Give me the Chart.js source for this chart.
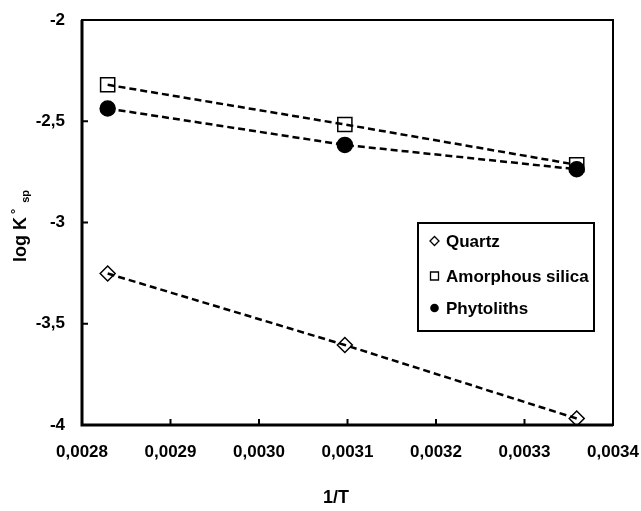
<!DOCTYPE html>
<html>
<head>
<meta charset="utf-8">
<script src="https://cdn.jsdelivr.net/npm/chart.js@4.4.0/dist/chart.umd.min.js"></script>
<style>
  body { margin: 0; background: #fff; }
  #wrap { width: 641px; height: 511px; }
</style>
</head>
<body>
<div id="wrap"><canvas id="chart" width="641" height="511"></canvas></div>
<script>
// 1/T values (K^-1) and log K°sp for each material
const invT = [0.002829, 0.003097, 0.003359];
const quartz = [-3.252, -3.605, -3.968];
const amorphousSilica = [-2.32, -2.516, -2.715];
const phytoliths = [-2.437, -2.617, -2.737];

const xTicks = { min: 0.0028, max: 0.0034, step: 0.0001 };
const yTicks = { min: -4, max: -2, step: 0.5 };

const FONT = "'Liberation Sans', Arial, sans-serif";

function toPoints(values) {
  return invT.map((x, i) => ({ x: x, y: values[i] }));
}

function makeSet(label, values, style, radius, fill) {
  return {
    label: label,
    data: toPoints(values),
    showLine: true,
    borderColor: '#000',
    borderWidth: 2.5,
    borderDash: [7, 4],
    pointStyle: style,
    pointRadius: radius,
    pointHoverRadius: radius,
    pointBorderColor: '#000',
    pointBorderWidth: 1.5,
    pointBackgroundColor: fill,
    fill: false
  };
}

// borders, inward tick marks, axis titles and the legend box
const decorations = {
  id: 'decorations',
  afterDraw(chart) {
    const ctx = chart.ctx;
    const a = chart.chartArea;
    const xs = chart.scales.x, ys = chart.scales.y;
    ctx.save();
    ctx.strokeStyle = '#000';
    ctx.setLineDash([]);

    ctx.lineWidth = 2;
    ctx.strokeRect(a.left, a.top, a.right - a.left, a.bottom - a.top);
    ctx.lineWidth = 3;
    ctx.beginPath();
    ctx.moveTo(a.left, a.top);
    ctx.lineTo(a.left, a.bottom);
    ctx.lineTo(a.right, a.bottom);
    ctx.stroke();

    ctx.lineWidth = 2;
    ctx.beginPath();
    xs.ticks.forEach(t => {
      const px = xs.getPixelForValue(t.value);
      ctx.moveTo(px, a.bottom);
      ctx.lineTo(px, a.bottom - 6);
    });
    ys.ticks.forEach(t => {
      const py = ys.getPixelForValue(t.value);
      ctx.moveTo(a.left, py);
      ctx.lineTo(a.left + 6, py);
    });
    ctx.stroke();

    // x title
    ctx.fillStyle = '#000';
    ctx.font = 'bold 18px ' + FONT;
    ctx.textAlign = 'center';
    ctx.textBaseline = 'alphabetic';
    ctx.fillText('1/T', 336, 503);

    // y title: log K°sp
    ctx.save();
    ctx.translate(26, 226);
    ctx.rotate(-Math.PI / 2);
    ctx.textAlign = 'left';
    const f1 = 'bold 18px ' + FONT, f2 = 'bold 13px ' + FONT, f3 = 'bold 11px ' + FONT;
    ctx.font = f1; const w1 = ctx.measureText('log K').width;
    ctx.font = f2; const w2 = ctx.measureText('°').width;
    ctx.font = f3; const w3 = ctx.measureText('sp').width;
    const total = w1 + 3 + w2 + 6 + w3;
    let cx = -total / 2;
    ctx.font = f1; ctx.fillText('log K', cx, 0); cx += w1 + 3;
    ctx.font = f2; ctx.fillText('°', cx, -6); cx += w2 + 6;
    ctx.font = f3; ctx.fillText('sp', cx, 3);
    ctx.restore();

    // legend
    ctx.lineWidth = 2;
    ctx.strokeRect(418, 223, 176, 108);
    const rows = [241, 276, 308];
    chart.data.datasets.forEach((ds, i) => {
      const y = rows[i], x = 434.5;
      ctx.lineWidth = 1.3;
      ctx.beginPath();
      if (ds.pointStyle === 'rectRot') {
        ctx.moveTo(x - 4.5, y); ctx.lineTo(x, y - 4.5);
        ctx.lineTo(x + 4.5, y); ctx.lineTo(x, y + 4.5);
        ctx.closePath(); ctx.stroke();
      } else if (ds.pointStyle === 'rect') {
        ctx.rect(x - 4, y - 4, 8, 8); ctx.stroke();
      } else {
        ctx.arc(x, y, 4.3, 0, Math.PI * 2); ctx.fill();
      }
      ctx.font = 'bold 17px ' + FONT;
      ctx.textAlign = 'left';
      ctx.fillText(ds.label, 446, y + 6);
    });
    ctx.restore();
  }
};

new Chart(document.getElementById('chart'), {
  type: 'scatter',
  data: {
    datasets: [
      makeSet('Quartz', quartz, 'rectRot', 7.5, 'rgba(0,0,0,0)'),
      makeSet('Amorphous silica', amorphousSilica, 'rect', 10, 'rgba(0,0,0,0)'),
      makeSet('Phytoliths', phytoliths, 'circle', 7.5, '#000')
    ]
  },
  options: {
    responsive: false,
    animation: false,
    layout: { padding: { top: 20, right: 28, left: 0, bottom: 0 } },
    plugins: { legend: { display: false }, tooltip: { enabled: false } },
    scales: {
      x: {
        type: 'linear',
        min: xTicks.min,
        max: xTicks.max,
        afterFit: s => { s.height = 86; s.paddingLeft = 0; s.paddingRight = 0; },
        border: { display: false },
        grid: { display: false, drawTicks: false },
        ticks: {
          stepSize: xTicks.step,
          padding: 17,
          color: '#000',
          font: { family: FONT, size: 17, weight: 'bold' },
          callback: v => v.toFixed(4).replace('.', ',')
        }
      },
      y: {
        type: 'linear',
        min: yTicks.min,
        max: yTicks.max,
        afterFit: s => { s.width = 82; s.paddingTop = 0; s.paddingBottom = 0; },
        border: { display: false },
        grid: { display: false, drawTicks: false },
        ticks: {
          stepSize: yTicks.step,
          padding: 17,
          color: '#000',
          font: { family: FONT, size: 17, weight: 'bold' },
          callback: v => String(v).replace('.', ',')
        }
      }
    }
  },
  plugins: [decorations]
});
</script>
</body>
</html>
